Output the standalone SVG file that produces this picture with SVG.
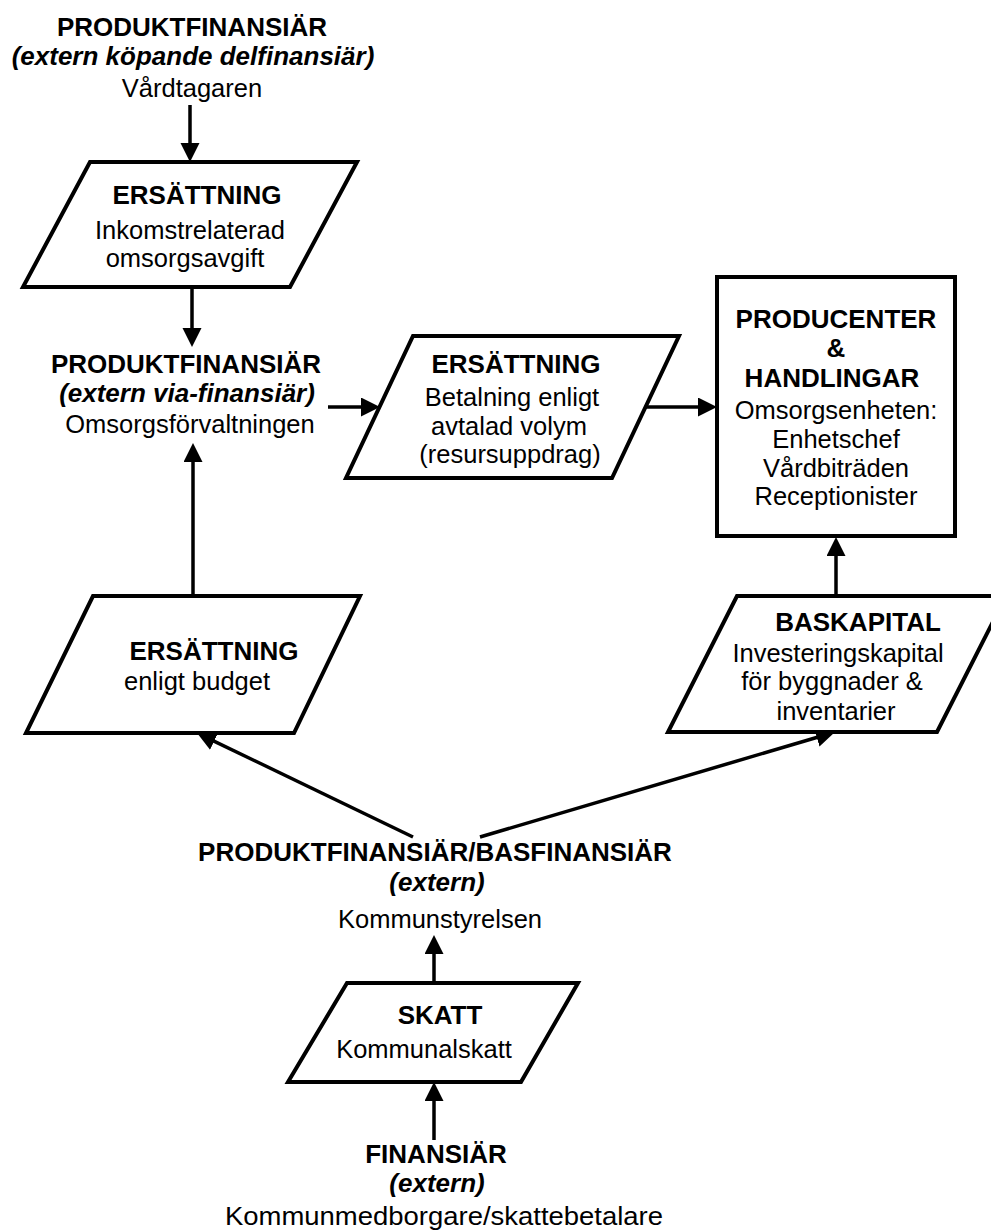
<svg xmlns="http://www.w3.org/2000/svg" width="991" height="1231" viewBox="0 0 991 1231">
  <style>
    text { font-family: "Liberation Sans", Arial, sans-serif; fill: #000; text-anchor: middle; }
    .b { font-weight: bold; font-size: 26px; }
    .bi { font-weight: bold; font-style: italic; font-size: 26px; }
    .r { font-size: 25.5px; }
    .shape { fill: #fff; stroke: #000; stroke-width: 4; stroke-linejoin: miter; }
    .conn { stroke: #000; stroke-width: 3.5; fill: none; marker-end: url(#arrow); }
  </style>
  <defs>
    <marker id="arrow" markerUnits="userSpaceOnUse" markerWidth="20" markerHeight="20" refX="9.5" refY="9.5" orient="auto">
      <path d="M0,0 L19,9.5 L0,19 Z" fill="#000"/>
    </marker>
  </defs>
  <rect width="991" height="1231" fill="#fff"/>

  <!-- connectors -->
  <g id="connectors">
    <line class="conn" x1="190" y1="105" x2="190" y2="152.5"/>
    <line class="conn" x1="192" y1="287" x2="192" y2="337.5"/>
    <line class="conn" x1="193" y1="596" x2="193" y2="452.5"/>
    <line class="conn" x1="328" y1="407" x2="370.5" y2="407"/>
    <line class="conn" x1="646" y1="407" x2="707.5" y2="407"/>
    <line class="conn" x1="836" y1="596" x2="836" y2="546.5"/>
    <line class="conn" x1="413" y1="837" x2="205.6" y2="737.1"/>
    <line class="conn" x1="480" y1="837" x2="825.9" y2="734.7"/>
    <line class="conn" x1="434" y1="983" x2="434" y2="944.5"/>
    <line class="conn" x1="434" y1="1140" x2="434" y2="1091.5"/>
  </g>

  <!-- payer: care recipient -->
  <g id="vardtagaren">
    <text class="b" x="192" y="36">PRODUKTFINANSIÄR</text>
    <text class="bi" x="193" y="65">(extern köpande delfinansiär)</text>
    <text class="r" x="192" y="97">Vårdtagaren</text>
  </g>

  <!-- income-related fee -->
  <g id="ersattning-avgift">
    <polygon class="shape" points="90,162 357,162 290,287 23,287"/>
    <text class="b" x="197" y="204">ERSÄTTNING</text>
    <text class="r" x="190" y="239">Inkomstrelaterad</text>
    <text class="r" x="185" y="267">omsorgsavgift</text>
  </g>

  <!-- care administration -->
  <g id="omsorgsforvaltningen">
    <text class="b" x="186" y="373">PRODUKTFINANSIÄR</text>
    <text class="bi" x="187" y="402">(extern via-finansiär)</text>
    <text class="r" x="190" y="433">Omsorgsförvaltningen</text>
  </g>

  <!-- payment by agreed volume -->
  <g id="ersattning-volym">
    <polygon class="shape" points="413,336 679,336 612,478 346,478"/>
    <text class="b" x="516" y="373">ERSÄTTNING</text>
    <text class="r" x="512" y="406">Betalning enligt</text>
    <text class="r" x="509" y="435">avtalad volym</text>
    <text class="r" x="510" y="463">(resursuppdrag)</text>
  </g>

  <!-- producing unit -->
  <g id="producenter">
    <rect class="shape" x="717" y="277" width="238" height="259" stroke-width="4.5"/>
    <text class="b" x="836" y="328">PRODUCENTER</text>
    <text class="b" x="836" y="357">&amp;</text>
    <text class="b" x="832" y="387">HANDLINGAR</text>
    <text class="r" x="836" y="419">Omsorgsenheten:</text>
    <text class="r" x="836" y="448">Enhetschef</text>
    <text class="r" x="836" y="477">Vårdbiträden</text>
    <text class="r" x="836" y="505">Receptionister</text>
  </g>

  <!-- budget allocation -->
  <g id="ersattning-budget">
    <polygon class="shape" points="93,596 360,596 294,733 26,733"/>
    <text class="b" x="214" y="660">ERSÄTTNING</text>
    <text class="r" x="197" y="690">enligt budget</text>
  </g>

  <!-- base capital -->
  <g id="baskapital">
    <polygon class="shape" points="737,596 1006,596 937,732 668,732"/>
    <text class="b" x="858" y="631">BASKAPITAL</text>
    <text class="r" x="838" y="662">Investeringskapital</text>
    <text class="r" x="832" y="690">för byggnader &amp;</text>
    <text class="r" x="836" y="720">inventarier</text>
  </g>

  <!-- municipal board -->
  <g id="kommunstyrelsen">
    <text class="b" x="435" y="861">PRODUKTFINANSIÄR/BASFINANSIÄR</text>
    <text class="bi" x="437" y="891">(extern)</text>
    <text class="r" x="440" y="928">Kommunstyrelsen</text>
  </g>

  <!-- municipal tax -->
  <g id="skatt">
    <polygon class="shape" points="347,983 578,983 521,1082 288,1082"/>
    <text class="b" x="440" y="1024">SKATT</text>
    <text class="r" x="424" y="1058">Kommunalskatt</text>
  </g>

  <!-- taxpayers -->
  <g id="skattebetalare">
    <text class="b" x="436" y="1163">FINANSIÄR</text>
    <text class="bi" x="437" y="1192">(extern)</text>
    <text class="r" x="225" y="1225" style="text-anchor:start" textLength="438" lengthAdjust="spacingAndGlyphs">Kommunmedborgare/skattebetalare</text>
  </g>
</svg>
